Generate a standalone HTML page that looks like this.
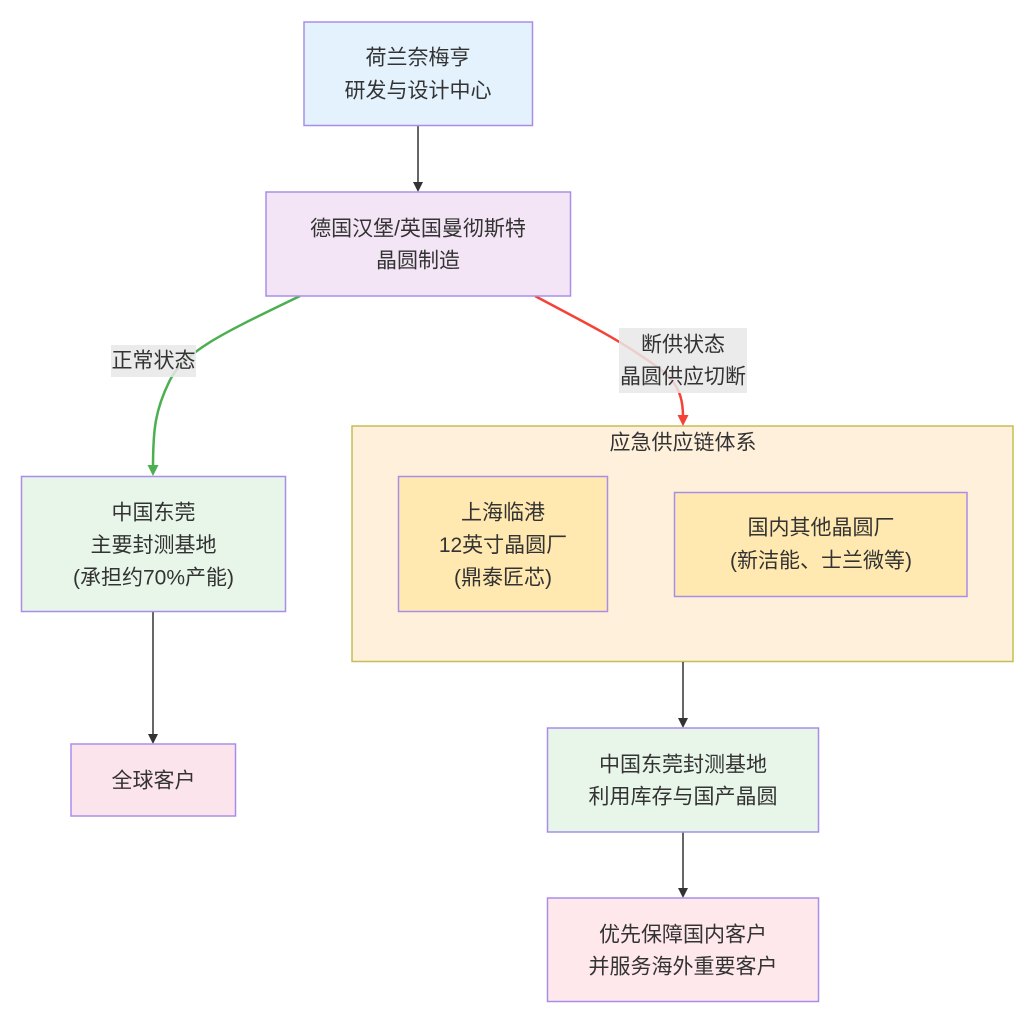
<!DOCTYPE html>
<html>
<head>
<meta charset="utf-8">
<style>
  html, body { margin:0; padding:0; background:#ffffff; }
  svg { display:block; }
  text { font-family: "Liberation Sans", "Noto Sans CJK SC", sans-serif; font-size:21px; fill:#333333; }
</style>
</head>
<body>
<svg width="1024" height="1014" viewBox="0 0 1024 1014" xmlns="http://www.w3.org/2000/svg">
  <rect x="0" y="0" width="1024" height="1014" fill="#ffffff"/>

  <!-- cluster -->
  <rect x="352" y="426" width="661" height="235.5" fill="#fff0dc" stroke="#c5bd55" stroke-width="1.5"/>
  <text x="683" y="443" text-anchor="middle" dominant-baseline="central">应急供应链体系</text>

  <!-- connectors -->
  <line x1="418" y1="126" x2="418" y2="183" stroke="#333" stroke-width="1.5"/>
  <polygon points="413,182 423,182 418,192" fill="#333"/>

  <path d="M300,296 C230,330 185,350 170,380 C155,410 153,430 153,468" fill="none" stroke="#4caf50" stroke-width="2.5"/>
  <polygon points="147.5,465 158.5,465 153,476" fill="#4caf50"/>

  <path d="M535,296 C580,320 610,335 640,355 C670,375 683,385 683,417" fill="none" stroke="#f44336" stroke-width="2.5"/>
  <polygon points="677.5,415 688.5,415 683,426" fill="#f44336"/>

  <line x1="153" y1="612" x2="153" y2="735" stroke="#333" stroke-width="1.5"/>
  <polygon points="148,734 158,734 153,744" fill="#333"/>

  <line x1="683" y1="662" x2="683" y2="719" stroke="#333" stroke-width="1.5"/>
  <polygon points="678,718 688,718 683,728" fill="#333"/>

  <line x1="683" y1="832" x2="683" y2="889" stroke="#333" stroke-width="1.5"/>
  <polygon points="678,888 688,888 683,898" fill="#333"/>

  <!-- edge labels -->
  <rect x="111" y="345" width="85" height="32" fill="#e8e8e8" fill-opacity="0.85"/>
  <text x="153.5" y="361" text-anchor="middle" dominant-baseline="central">正常状态</text>

  <rect x="619" y="328" width="128" height="65" fill="#e8e8e8" fill-opacity="0.85"/>
  <text x="683" y="345" text-anchor="middle" dominant-baseline="central">断供状态</text>
  <text x="683" y="377" text-anchor="middle" dominant-baseline="central">晶圆供应切断</text>

  <!-- nodes -->
  <rect x="304" y="22" width="228.5" height="103.5" fill="#e3f2fd" stroke="#a98ee8" stroke-width="1.5"/>
  <text x="418" y="58" text-anchor="middle" dominant-baseline="central">荷兰奈梅亨</text>
  <text x="418" y="91" text-anchor="middle" dominant-baseline="central">研发与设计中心</text>

  <rect x="266" y="192" width="304.5" height="104" fill="#f3e5f5" stroke="#a98ee8" stroke-width="1.5"/>
  <text x="418" y="229" text-anchor="middle" dominant-baseline="central">德国汉堡/英国曼彻斯特</text>
  <text x="418" y="261" text-anchor="middle" dominant-baseline="central">晶圆制造</text>

  <rect x="21.5" y="476.5" width="264" height="135" fill="#e8f5e9" stroke="#a98ee8" stroke-width="1.5"/>
  <text x="153.5" y="513" text-anchor="middle" dominant-baseline="central">中国东莞</text>
  <text x="153.5" y="545.5" text-anchor="middle" dominant-baseline="central">主要封测基地</text>
  <text x="153.5" y="578" text-anchor="middle" dominant-baseline="central">(承担约70%产能)</text>

  <rect x="71" y="744" width="164.5" height="72" fill="#fce4ec" stroke="#a98ee8" stroke-width="1.5"/>
  <text x="153.5" y="781" text-anchor="middle" dominant-baseline="central">全球客户</text>

  <rect x="398.5" y="476.5" width="209" height="135" fill="#ffe9b0" stroke="#a98ee8" stroke-width="1.5"/>
  <text x="503" y="513" text-anchor="middle" dominant-baseline="central">上海临港</text>
  <text x="503" y="545.5" text-anchor="middle" dominant-baseline="central">12英寸晶圆厂</text>
  <text x="503" y="578" text-anchor="middle" dominant-baseline="central">(鼎泰匠芯)</text>

  <rect x="674.5" y="492.5" width="292.5" height="104" fill="#ffe9b0" stroke="#a98ee8" stroke-width="1.5"/>
  <text x="821" y="528" text-anchor="middle" dominant-baseline="central">国内其他晶圆厂</text>
  <text x="821" y="561" text-anchor="middle" dominant-baseline="central">(新洁能、士兰微等)</text>

  <rect x="547.5" y="728" width="271" height="104" fill="#e8f5e9" stroke="#a98ee8" stroke-width="1.5"/>
  <text x="683" y="765" text-anchor="middle" dominant-baseline="central">中国东莞封测基地</text>
  <text x="683" y="797" text-anchor="middle" dominant-baseline="central">利用库存与国产晶圆</text>

  <rect x="547.5" y="898" width="271" height="103.5" fill="#ffe8ec" stroke="#a98ee8" stroke-width="1.5"/>
  <text x="683" y="935" text-anchor="middle" dominant-baseline="central">优先保障国内客户</text>
  <text x="683" y="967" text-anchor="middle" dominant-baseline="central">并服务海外重要客户</text>
</svg>
</body>
</html>
